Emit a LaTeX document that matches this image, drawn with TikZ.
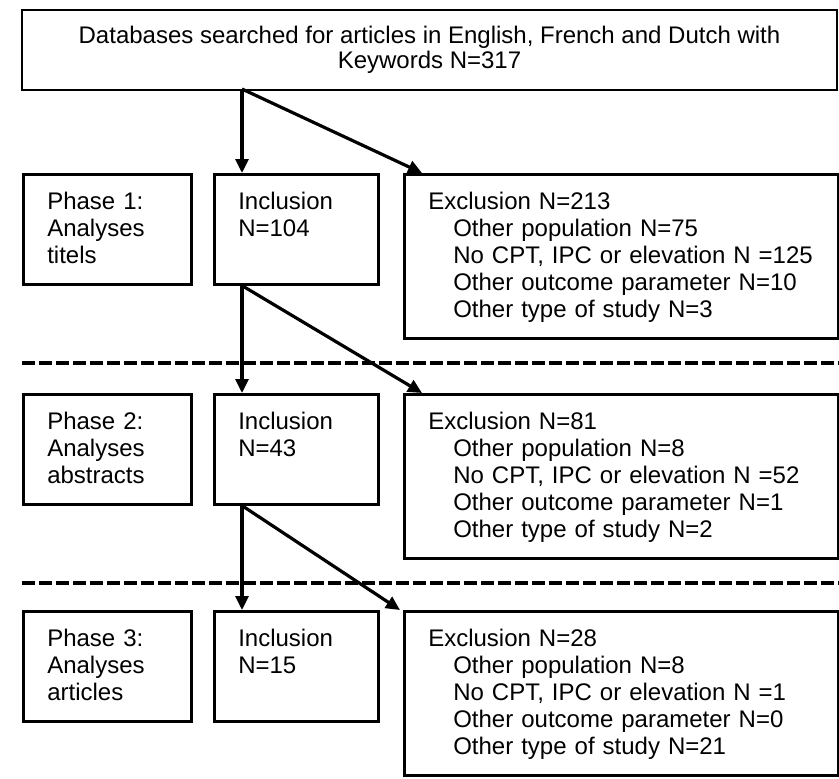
\documentclass[tikz,border=0pt]{standalone}
\usepackage{fontspec}
\setmainfont{Liberation Sans}
\usepackage{tikz}
\usetikzlibrary{arrows.meta}
\tikzset{
	box/.style={draw,line width=2.6pt,rectangle,anchor=north west,align=left,inner xsep=24pt,inner ysep=0pt,text height=35pt,font=\fontsize{24}{27}\selectfont},
	phase/.style={box,text width=120pt,text depth=75pt},
	incl/.style={box,text width=116pt,text depth=75pt},
	excl/.style={box,text width=386pt,text depth=129pt},
	arr/.style={line width=3.2pt,-{Triangle[length=14pt,width=13pt]}},
	sep/.style={line width=3.5pt,dash pattern=on 13pt off 4pt}
}
\newcommand{\indentitem}{\hspace*{25pt}}

\begin{document}
\begin{tikzpicture}[x=1pt,y=-1pt]
						\useasboundingbox (0,0) rectangle (839,779);

						\node [draw,line width=2.6pt,minimum width=815pt,minimum height=80pt,align=center,font=\fontsize{24}{25}\selectfont] (db) at (429.5,50) {Databases searched for articles in English, French and Dutch with\\Keywords N=317};
						\coordinate (src0) at (242,89);

						\node [phase] (ph1) at (22,173) {Phase 1:\\Analyses\\titels};
						\node [incl] (inc1) at (213,173) {Inclusion\\N=104};
						\node [excl] (exc1) at (403,173) {Exclusion N=213\\\indentitem Other population N=75\\\indentitem No CPT, IPC or elevation N =125\\\indentitem Other outcome parameter N=10\\\indentitem Other type of study N=3};

						\draw [arr] (src0) -- (src0 |- inc1.north);
						\draw [arr] (src0) -- ([xshift=19pt]exc1.north west);

						\draw [sep] (22,363) -- (839,363);

						\node [phase] (ph2) at (22,393) {Phase 2:\\Analyses\\abstracts};
						\node [incl] (inc2) at (213,393) {Inclusion\\N=43};
						\node [excl] (exc2) at (403,393) {Exclusion N=81\\\indentitem Other population N=8\\\indentitem No CPT, IPC or elevation N =52\\\indentitem Other outcome parameter N=1\\\indentitem Other type of study N=2};

						\draw [arr] ([xshift=29pt]inc1.south west) -- ([xshift=29pt]inc2.north west);
						\draw [arr] ([xshift=29pt]inc1.south west) -- ([xshift=19pt]exc2.north west);

						\draw [sep] (22,583) -- (839,583);

						\node [phase] (ph3) at (22,610) {Phase 3:\\Analyses\\articles};
						\node [incl] (inc3) at (213,610) {Inclusion\\N=15};
						\node [excl] (exc3) at (403,610) {Exclusion N=28\\\indentitem Other population N=8\\\indentitem No CPT, IPC or elevation N =1\\\indentitem Other outcome parameter N=0\\\indentitem Other type of study N=21};

						\draw [arr] ([xshift=29pt]inc2.south west) -- ([xshift=29pt]inc3.north west);
						\draw [arr] ([xshift=29pt]inc2.south west) -- ([xshift=-3pt]exc3.north west);
					\end{tikzpicture}
\end{document}
